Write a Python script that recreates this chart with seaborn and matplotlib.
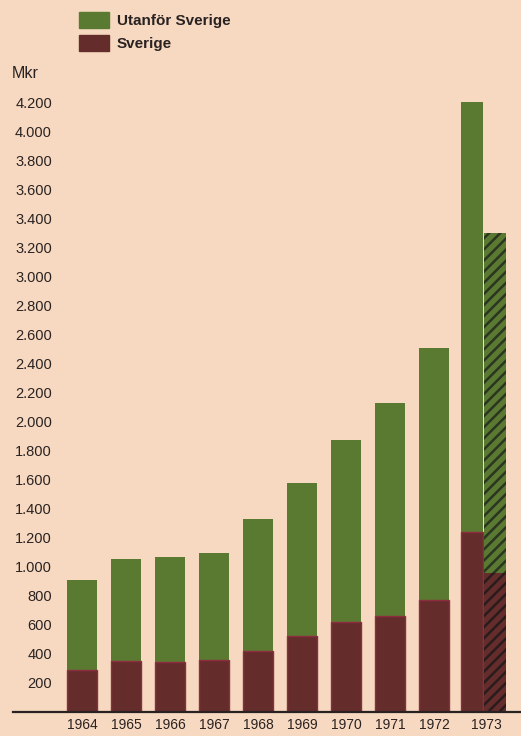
import numpy as np
import pandas as pd
import matplotlib
matplotlib.use("Agg")
import matplotlib.pyplot as plt
import matplotlib.patches as mpatches
import seaborn as sns

### Data (Mkr)
ar = ["1964", "1965", "1966", "1967", "1968", "1969", "1970", "1971", "1972", "1973"]
totalt = [910, 1055, 1065, 1095, 1330, 1580, 1875, 2130, 2505, 4200]
sverige = [290, 350, 345, 360, 420, 525, 620, 660, 770, 1240]
# 1973, jämförbar (streckad stapel)
totalt_1973b = 3300
sverige_1973b = 960

yticks = list(range(200, 4201, 200))

### Colours
BG = "#f6d9c0"
GREEN = "#5a7a32"
RED = "#652c2c"
RED_EDGE = "#8e2c40"
INK = "#2a2222"

sns.set_theme(style="white")
plt.rcParams["font.family"] = ["Liberation Sans", "DejaVu Sans"]
plt.rcParams["hatch.linewidth"] = 1.8

df = pd.DataFrame({"ar": ar[:-1], "totalt": totalt[:-1], "sverige": sverige[:-1]})

fig = plt.figure(figsize=(5.21, 7.36), dpi=100, facecolor=BG)
ax = fig.add_axes([13 / 521, 24 / 736, 508 / 521, (712 - 87.5) / 736])
ax.set_facecolor(BG)

bw = 0.68
sns.barplot(data=df, x="ar", y="totalt", order=ar, color=GREEN, saturation=1,
            width=bw, linewidth=0, ax=ax)
sns.barplot(data=df, x="ar", y="sverige", order=ar, color=RED, saturation=1,
            width=bw, linewidth=1, edgecolor=RED_EDGE, ax=ax)

# 1973: two narrow bars side by side in the last slot
i73 = ar.index("1973")
w2 = 0.5
xa = i73 - 0.39 + w2 / 2
xb = xa + w2 + 0.02
ax.bar(xa, totalt[-1], width=w2, color=GREEN, linewidth=0)
ax.bar(xa, sverige[-1], width=w2, color=RED, edgecolor=RED_EDGE, linewidth=1)
ax.bar(xb, totalt_1973b, width=w2, color=GREEN, edgecolor="#2b3520",
       hatch="///", linewidth=0)
ax.bar(xb, sverige_1973b, width=w2, color=RED, edgecolor="#2a1c1c",
       hatch="///", linewidth=0)

ax.set_xlim(-1.568, 9.977)
ax.set_ylim(0, 4300)

for s in ["top", "right", "left"]:
    ax.spines[s].set_visible(False)
ax.spines["bottom"].set_color(INK)
ax.spines["bottom"].set_linewidth(1.6)

ax.set_yticks(yticks)
ax.set_yticklabels([f"{v:,}".replace(",", ".") for v in yticks])
ax.tick_params(axis="y", length=0, pad=-28, labelsize=10.5, labelcolor=INK)

xpos = list(range(len(ar) - 1)) + [i73 + 0.2]
ax.set_xticks(xpos)
ax.set_xticklabels(ar)
ax.tick_params(axis="x", length=0, pad=4.5, labelsize=10, labelcolor=INK)
ax.set_xlabel("")
ax.set_ylabel("")

fig.text(12 / 521, 1 - 73 / 736, "Mkr", fontsize=11.5, color=INK, va="center")

leg_ut = mpatches.Patch(color=GREEN, label="Utanför Sverige")
leg_sv = mpatches.Patch(color=RED, label="Sverige")
leg = fig.legend(handles=[leg_ut, leg_sv], loc="upper left",
                 bbox_to_anchor=(79 / 521, 1 - 12 / 736), frameon=False,
                 borderpad=0, borderaxespad=0, handlelength=30 / 15.3,
                 handleheight=1.2, handletextpad=0.5, labelspacing=0.45,
                 prop={"size": 11, "weight": "bold"})
for t in leg.get_texts():
    t.set_color(INK)

fig.savefig("out.png", dpi=100, facecolor=BG)
